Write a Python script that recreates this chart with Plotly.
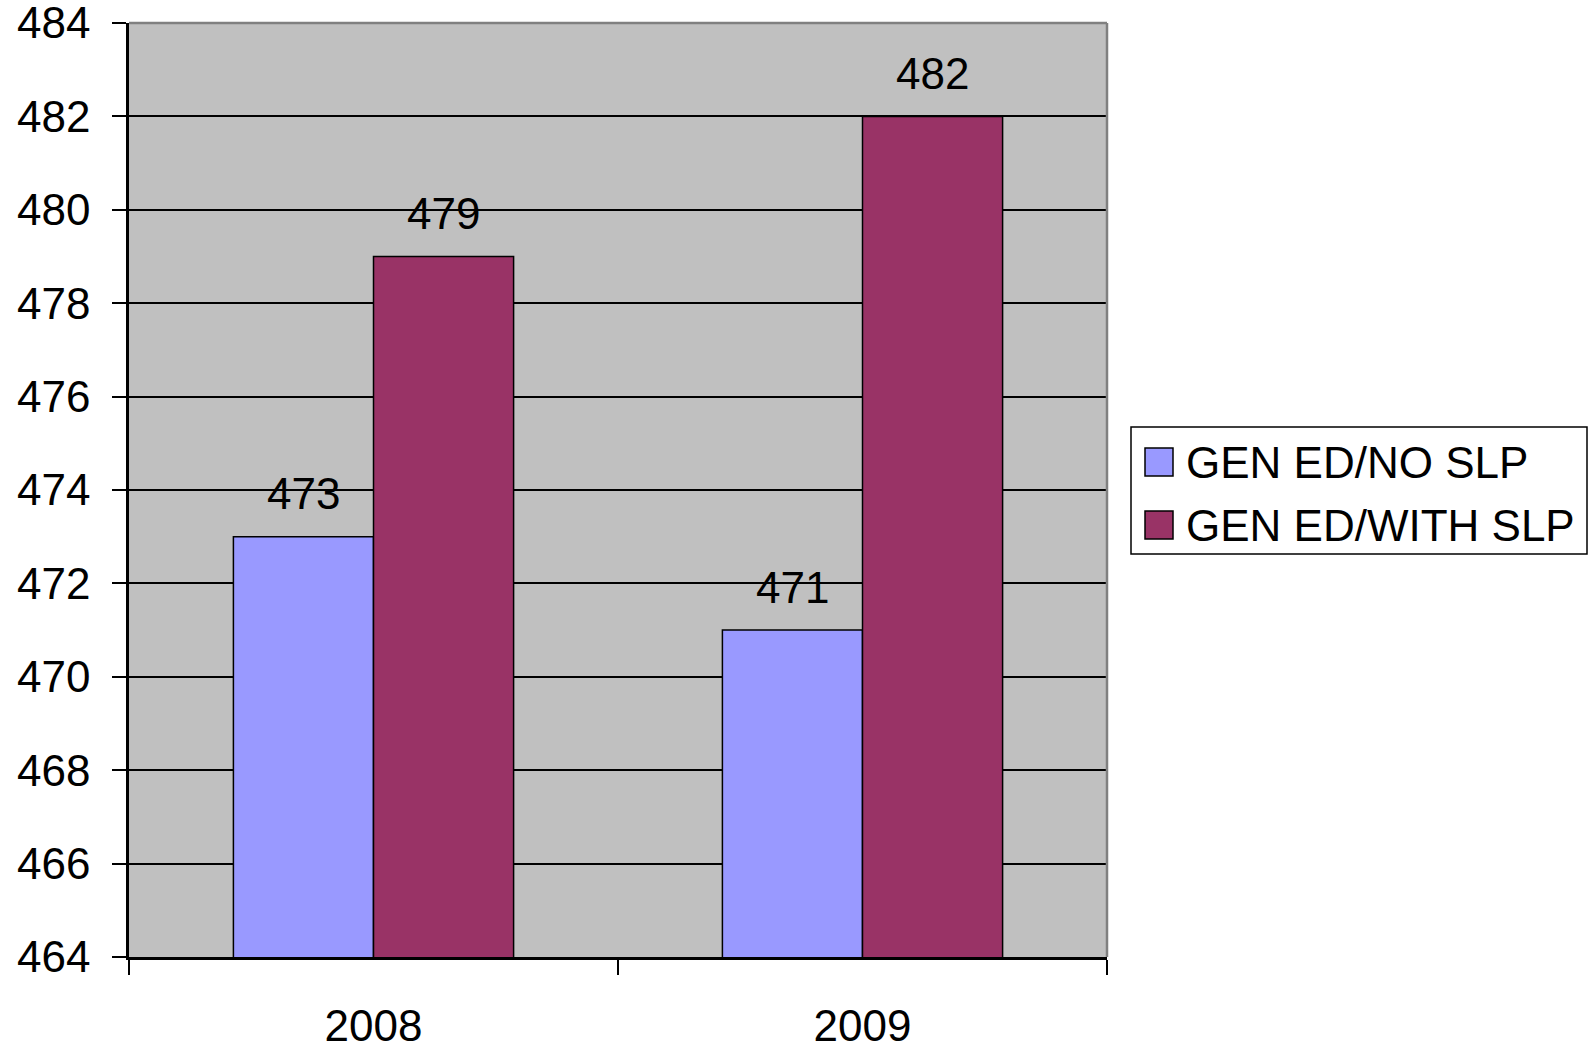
import plotly.graph_objects as go

# Scores by year for the two student groups
years = ["2008", "2009"]
no_slp = [473, 471]
with_slp = [479, 482]
series_names = ["GEN ED/NO SLP", "GEN ED/WITH SLP"]
series_colors = ["#9999FF", "#993366"]
y_ticks = list(range(464, 486, 2))

W, H = 1593, 1049
L, R, T, B = 129, 1107, 23, 957  # plot area edges in pixels
FONT = "Liberation Sans, Arial, sans-serif"
FS = 44


def px_x(px):
    return (px - L) / (R - L)


def px_y(py):
    return (B - py) / (B - T)


fig = go.Figure()
for name, vals, col in zip(series_names, [no_slp, with_slp], series_colors):
    fig.add_trace(go.Bar(
        name=name, x=years, y=vals,
        marker=dict(color=col, line=dict(color="black", width=1.5)),
        showlegend=False,
    ))

# value labels above each bar (x given as category index)
for i, vals in enumerate([no_slp, with_slp]):
    shift = -70 if i == 0 else 70
    for j, v in enumerate(vals):
        fig.add_annotation(
            x=j, y=v, text=str(v), showarrow=False,
            xshift=shift, yshift=43, yanchor="middle",
            font=dict(family=FONT, size=FS, color="black"),
        )

# gray frame on top and right of the plot area
fig.add_shape(type="line", xref="paper", yref="paper", x0=0, x1=1, y0=1, y1=1,
              line=dict(color="#808080", width=2.5), layer="above")
fig.add_shape(type="line", xref="paper", yref="paper", x0=1, x1=1, y0=0, y1=1,
              line=dict(color="#808080", width=2.5), layer="above")

# legend box
fig.add_shape(type="rect", xref="paper", yref="paper",
              x0=px_x(1131), x1=px_x(1587), y0=px_y(554), y1=px_y(427),
              line=dict(color="black", width=1.5), fillcolor="white")
for k, (name, col) in enumerate(zip(series_names, series_colors)):
    cy = 462 + k * 63
    fig.add_shape(type="rect", xref="paper", yref="paper",
                  x0=px_x(1145), x1=px_x(1173), y0=px_y(cy + 14), y1=px_y(cy - 14),
                  line=dict(color="black", width=1.5), fillcolor=col)
    fig.add_annotation(xref="paper", yref="paper", x=px_x(1184), y=px_y(cy),
                       xanchor="left", yanchor="middle", showarrow=False,
                       text=name, font=dict(family=FONT, size=FS, color="black"))

fig.update_layout(
    width=W, height=H,
    margin=dict(l=L, r=W - R, t=T, b=H - B),
    paper_bgcolor="white", plot_bgcolor="#C0C0C0",
    barmode="group", bargap=0.427, bargroupgap=0,
    font=dict(family=FONT, size=FS, color="black"),
)
fig.update_xaxes(
    type="category", range=[-0.5, 1.5], automargin=False, tickangle=0,
    showline=True, linecolor="black", linewidth=2.5,
    ticks="outside", ticklen=15, tickwidth=2, tickcolor="black",
    tickson="boundaries", showgrid=False,
    tickfont=dict(family=FONT, size=FS), ticklabelstandoff=28,
    ticklabeloverflow="allow",
)
fig.update_yaxes(
    range=[464, 484.001], tickvals=y_ticks, automargin=False,
    showline=True, linecolor="black", linewidth=2.5,
    ticks="outside", ticklen=14, tickwidth=2, tickcolor="black",
    showgrid=True, gridcolor="black", gridwidth=1.5, zeroline=False,
    tickfont=dict(family=FONT, size=FS), ticklabelstandoff=13,
    ticklabeloverflow="allow",
)

fig.write_html("out.html")
